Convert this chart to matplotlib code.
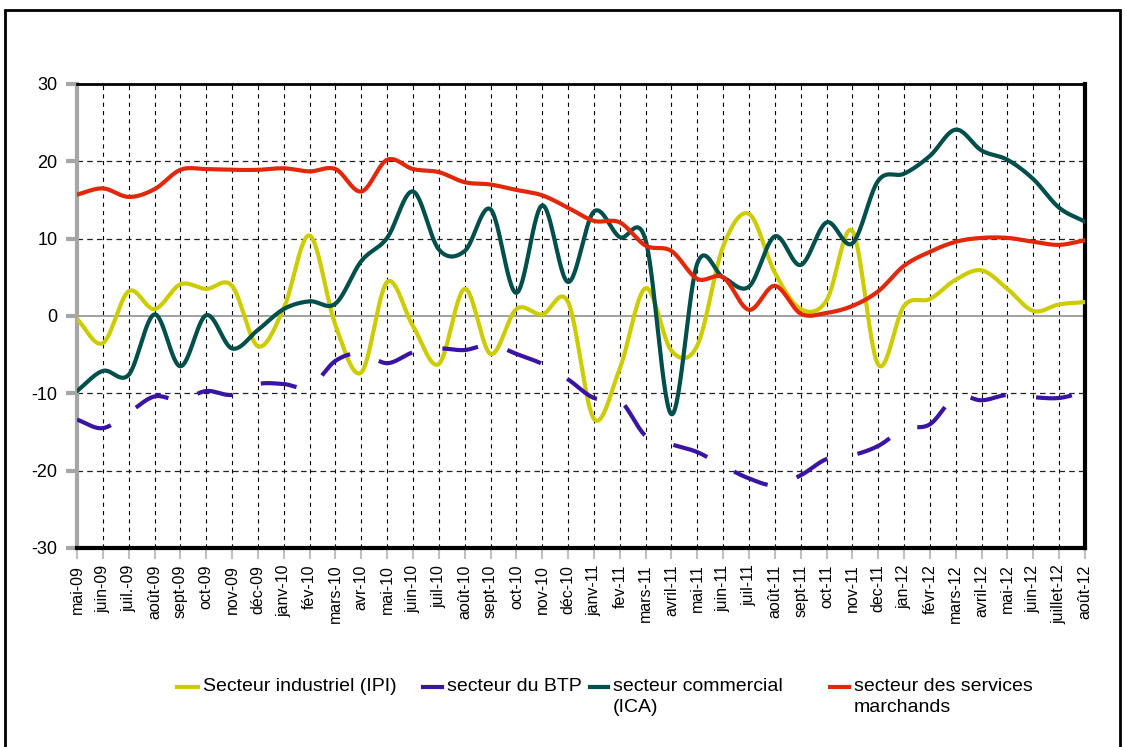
import numpy as np
import matplotlib
matplotlib.use("Agg")
import matplotlib.pyplot as plt
from matplotlib.lines import Line2D
from matplotlib.patches import Rectangle

plt.rcParams["font.family"] = ["Liberation Sans", "DejaVu Sans"]
plt.rcParams["lines.scale_dashes"] = False
plt.rcParams["axes.unicode_minus"] = False

months = ["mai-09", "juin-09", "juil.-09", "août-09", "sept-09", "oct-09", "nov-09",
          "déc-09", "janv-10", "fév-10", "mars-10", "avr-10", "mai-10", "juin-10",
          "juil-10", "août-10", "sept-10", "oct-10", "nov-10", "déc-10", "janv-11",
          "fev-11", "mars-11", "avril-11", "mai-11", "juin-11", "juil-11", "août-11",
          "sept-11", "oct-11", "nov-11", "dec-11", "jan-12", "févr-12", "mars-12",
          "avril-12", "mai-12", "juin-12", "juillet-12", "août-12"]

ipi = [-0.4, -3.5, 3.2, 0.9, 4.1, 3.5, 3.9, -3.9, 1.0, 10.4,
       -1.2, -7.3, 4.4, -1.3, -6.2, 3.5, -4.9, 0.9, 0.2, 1.8,
       -13.3, -6.8, 3.6, -4.5, -3.8, 9.0, 13.2, 5.6, 0.9, 2.0,
       11.0, -6.3, 1.3, 2.2, 4.7, 5.9, 3.5, 0.65, 1.5, 1.8]

btp = [-13.4, -14.5, -12.5, -10.4, -10.9, -9.7, -10.2, -8.8, -8.8, -9.2,
       -5.8, -4.8, -6.1, -4.7, -4.2, -4.4, -3.7, -4.9, -6.2, -8.2,
       -10.6, -10.9, -15.5, -16.6, -17.6, -19.4, -21.0, -21.9, -20.6, -18.5,
       -18.0, -16.8, -14.6, -14.0, -10.4, -10.9, -10.2, -10.5, -10.6, -9.8]

ica = [-9.7, -7.1, -7.6, 0.2, -6.5, 0.1, -4.2, -1.8, 0.9, 1.9,
       1.6, 7.1, 10.1, 16.1, 8.6, 8.4, 13.8, 3.0, 14.3, 4.4,
       13.5, 10.2, 9.8, -12.7, 6.8, 5.0, 3.8, 10.3, 6.6, 12.1,
       9.4, 17.5, 18.4, 20.7, 24.1, 21.4, 20.2, 17.7, 14.0, 12.2]

services = [15.7, 16.5, 15.4, 16.4, 18.9, 19.0, 18.9, 18.9, 19.1, 18.7,
            19.0, 16.1, 20.2, 19.0, 18.6, 17.3, 17.0, 16.3, 15.6, 14.0,
            12.3, 12.1, 9.1, 8.4, 4.8, 5.0, 0.8, 3.9, 0.3, 0.4,
            1.3, 3.2, 6.5, 8.3, 9.6, 10.1, 10.1, 9.6, 9.2, 9.8]

C_IPI = "#cccc00"
C_BTP = "#3a14a3"
C_ICA = "#004f4a"
C_SRV = "#e2280a"


def smooth(y, n=30):
    # Catmull-Rom curve through the monthly points, like Excel's smoothed lines
    y = np.asarray(y, float)
    x = np.arange(len(y))
    m = np.empty_like(y)
    m[1:-1] = (y[2:] - y[:-2]) / 2
    m[0] = y[1] - y[0]
    m[-1] = y[-1] - y[-2]
    xs, ys = [], []
    t = np.linspace(0, 1, n, endpoint=False)
    h00 = 2 * t**3 - 3 * t**2 + 1
    h10 = t**3 - 2 * t**2 + t
    h01 = -2 * t**3 + 3 * t**2
    h11 = t**3 - t**2
    for i in range(len(y) - 1):
        xs.append(x[i] + t)
        ys.append(h00 * y[i] + h10 * m[i] + h01 * y[i + 1] + h11 * m[i + 1])
    xs.append([x[-1]])
    ys.append([y[-1]])
    return np.concatenate(xs), np.concatenate(ys)


W, H = 1125, 747
fig = plt.figure(figsize=(W / 100, H / 100), dpi=100)
ax = fig.add_axes([77 / W, 1 - 548 / H, (1085 - 77) / W, (548 - 84) / H])

x = np.arange(len(months))
ax.set_xlim(0, len(months) - 1)
ax.set_ylim(-30, 30)

ax.set_xticks(x)
ax.set_xticklabels(months, rotation=90, fontsize=11.5)
ax.set_yticks(range(-30, 31, 10))
ax.tick_params(axis="y", direction="out", length=8, width=3, color="#a6a6a6",
               labelsize=13, pad=6)
ax.tick_params(axis="x", direction="out", length=8, width=1.5, color="#c0c0c0",
               pad=4)

for v in x:
    ax.axvline(v, color="black", lw=0.8, ls=(0, (3, 3)), zorder=1)
for v in (-20, -10, 10, 20):
    ax.axhline(v, color="#222222", lw=0.9, ls=(0, (4, 3)), zorder=1)
ax.axhline(0, color="#a0a0a0", lw=1.4, zorder=1)

ax.spines["left"].set_color("#a6a6a6")
ax.spines["left"].set_linewidth(3)
ax.spines["bottom"].set_linewidth(3)
ax.spines["right"].set_linewidth(3)
ax.spines["top"].set_linewidth(2)

ax.plot(*smooth(ipi), color=C_IPI, lw=3, zorder=3, solid_capstyle="round")
ax.plot(*smooth(btp), color=C_BTP, lw=3, zorder=3, ls=(0, (26, 22)))
ax.plot(*smooth(ica), color=C_ICA, lw=3, zorder=3, solid_capstyle="round")
ax.plot(*smooth(services), color=C_SRV, lw=3, zorder=3, solid_capstyle="round")

# legend drawn by hand so that two-line labels stay top aligned
items = [(177, 198, 203, "Secteur industriel (IPI)", C_IPI),
         (423, 442, 447, "secteur du BTP", C_BTP),
         (590, 608, 613, "secteur commercial\n(ICA)", C_ICA),
         (830, 849, 854, "secteur des services\nmarchands", C_SRV)]
for x0, x1, xt, label, col in items:
    fig.add_artist(Line2D([x0 / W, x1 / W], [1 - 687 / H] * 2, color=col, lw=3))
    fig.text(xt / W, 1 - 678 / H, label, fontsize=14, ha="left", va="top",
             linespacing=1.3)

fig.add_artist(Rectangle((5 / W, -0.01), (1120 - 5) / W, 1 - 10 / H + 0.01,
                         transform=fig.transFigure, fill=False, ec="black", lw=2))

fig.savefig("out.png", dpi=100)
